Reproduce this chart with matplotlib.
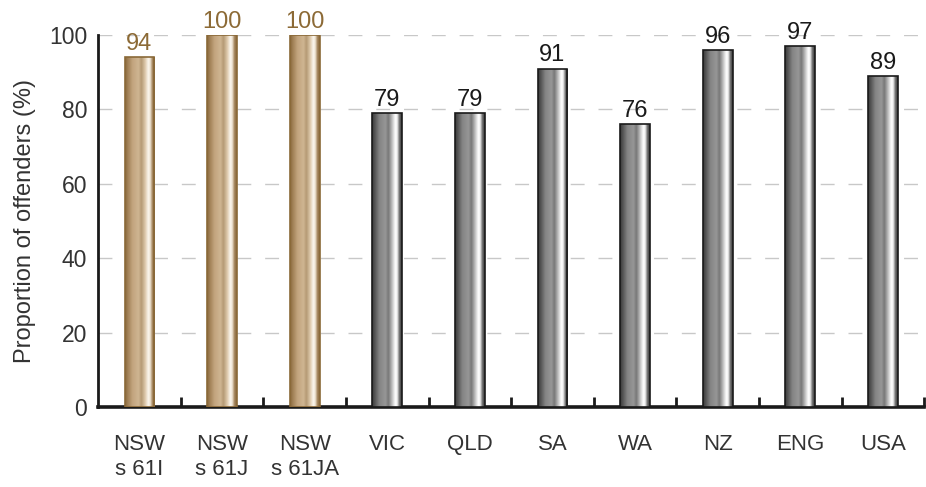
import numpy as np
import matplotlib.pyplot as plt
from matplotlib.colors import LinearSegmentedColormap

plt.rcParams['font.family'] = ['Liberation Sans', 'DejaVu Sans']

categories = ['NSW\ns 61I', 'NSW\ns 61J', 'NSW\ns 61JA', 'VIC', 'QLD', 'SA', 'WA', 'NZ', 'ENG', 'USA']
values = [94, 100, 100, 79, 79, 91, 76, 96, 97, 89]
is_nsw = [True, True, True, False, False, False, False, False, False, False]

brown_text = '#8c6a36'

# cylinder-style shading across each bar
stops = [0.0, 0.08, 0.25, 0.45, 0.55, 0.68, 0.78, 0.84, 0.92, 1.0]
grey_cmap = LinearSegmentedColormap.from_list('cyl_grey', list(zip(stops, [
    '#383838', '#505050', '#858585', '#979797', '#777777',
    '#c4c4c4', '#ffffff', '#f0f0f0', '#6a6a6a', '#3a3a3a'])))
brown_cmap = LinearSegmentedColormap.from_list('cyl_brown', list(zip(stops, [
    '#86653a', '#9e7d52', '#c2a47e', '#cfb592', '#b59a74',
    '#dfcbae', '#fbf6ee', '#f0e6d6', '#a3835a', '#86653a'])))
grad = np.linspace(0, 1, 256).reshape(1, -1)

fig = plt.figure(figsize=(9.26, 4.87), dpi=100)
ax = fig.add_axes([0.106, 0.164, 0.892, 0.764])

x = np.arange(len(categories))
bars = ax.bar(x, values, width=0.36, color='none', zorder=3)

for rect, nsw, v in zip(bars, is_nsw, values):
    x0, w, h = rect.get_x(), rect.get_width(), rect.get_height()
    im = ax.imshow(grad, cmap=brown_cmap if nsw else grey_cmap, aspect='auto',
                   extent=(x0, x0 + w, 0, h), zorder=3, interpolation='bilinear')
    im.set_clip_path(rect)
    rect.set_edgecolor('#8a6938' if nsw else '#1a1a1a')
    rect.set_linewidth(1.2)
    rect.set_zorder(4)
    ax.text(x0 + w / 2, h + 0.6, str(v), ha='center', va='bottom', fontsize=17,
            color=brown_text if nsw else '#1a1a1a', clip_on=False)

ax.set_xlim(-0.5, len(categories) - 0.5)
ax.set_ylim(0, 100)
ax.set_yticks([0, 20, 40, 60, 80, 100])
ax.set_xticks(x)
ax.set_xticklabels(categories, fontsize=16, color='#333333', linespacing=1.3)
ax.set_xticks(np.arange(0.5, len(categories), 1.0), minor=True)
ax.tick_params(axis='x', which='major', length=0, pad=19)
ax.tick_params(axis='x', which='minor', direction='in', length=7, width=2, color='#1a1a1a')
ax.tick_params(axis='y', length=0, pad=8, labelsize=16.5, labelcolor='#333333')

ax.yaxis.grid(True, color='#c8c8c8', linewidth=1, linestyle=(0, (10, 10)), zorder=0)
ax.set_axisbelow(True)

for side in ['top', 'right']:
    ax.spines[side].set_visible(False)
ax.spines['left'].set_linewidth(2)
ax.spines['left'].set_color('#1a1a1a')
ax.spines['bottom'].set_linewidth(2.6)
ax.spines['bottom'].set_color('#1a1a1a')

ax.set_ylabel('Proportion of offenders (%)', fontsize=17, color='#333333', labelpad=9)

fig.savefig('out.png', dpi=100)
